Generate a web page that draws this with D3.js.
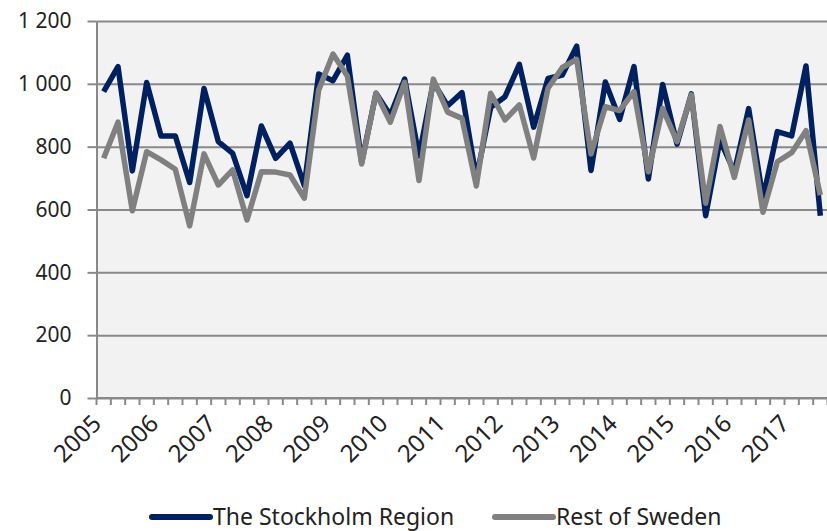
<!DOCTYPE html>
<html>
<head>
<meta charset="utf-8">
<script src="https://cdn.jsdelivr.net/npm/d3@7"></script>
<style>
  body { margin: 0; background: #fff; }
  text { font-family: 'Noto Sans', sans-serif; fill: #222; }
  .axis path, .axis line { stroke: #898989; stroke-width: 2px; }
  .grid line { stroke: #898989; stroke-width: 2px; }
  .grid path { display: none; }
</style>
</head>
<body>
<div id="chart"></div>
<script>
var margin = {top: 21, right: 0, bottom: 133, left: 96.5},
    width = 827.5 - margin.left - margin.right,
    height = 531 - margin.top - margin.bottom;

// quarterly values, 2005 Q1 - 2017 Q3
var years = ['2005','2006','2007','2008','2009','2010','2011','2012','2013','2014','2015','2016','2017'];

var stockholm = [975, 1055, 723, 1004, 834, 834, 686, 985, 816, 779, 644, 866, 763,
                 811, 676, 1031, 1010, 1091, 750, 970, 900, 1015, 770, 1005, 930,
                 972, 700, 925, 959, 1062, 862, 1017, 1028, 1120, 724, 1006, 887,
                 1055, 697, 998, 808, 968, 580, 821, 720, 921, 635, 848, 834, 1057, 580];

var restOfSweden = [763, 878, 596, 784, 758, 728, 548, 777, 678, 726, 567, 720, 719,
                    710, 636, 980, 1095, 1025, 745, 970, 878, 1005, 692, 1015, 910,
                    890, 675, 970, 885, 933, 764, 986, 1052, 1078, 777, 927, 915,
                    975, 720, 922, 816, 965, 620, 864, 702, 885, 591, 752, 781, 851, 646];

var yTicks = [0, 200, 400, 600, 800, 1000, 1200];

var series = [
  {name: 'The Stockholm Region', values: stockholm, colour: '#002060'},
  {name: 'Rest of Sweden', values: restOfSweden, colour: '#808080'}
];

var svg = d3.select('#chart').append('svg')
    .attr('width', 827)
    .attr('height', 531);

var wrapper = svg.append('g')
    .attr('transform', 'translate(' + margin.left + ',' + margin.top + ')');

var xScale = d3.scaleBand().domain(d3.range(stockholm.length)).range([0, width]),
    yScale = d3.scaleLinear().domain([0, 1200]).range([height, 0]);

var fmt = d3.formatLocale({decimal: ',', thousands: ' ', grouping: [3], currency: ['', '']}).format(',');

wrapper.append('rect')
    .attr('width', width)
    .attr('height', height)
    .style('fill', '#f2f2f2');

// gridlines
wrapper.append('g')
    .attr('class', 'grid')
    .call(d3.axisLeft(yScale).tickValues(yTicks).tickSize(-width).tickFormat(''));

// y axis
var yAxis = wrapper.append('g')
    .attr('class', 'axis')
    .call(d3.axisLeft(yScale).tickValues(yTicks).tickSize(9).tickSizeOuter(0).tickPadding(16).tickFormat(fmt));
yAxis.selectAll('text').style('font-size', '21px');

// x axis: ticks between quarters
var xAxis = wrapper.append('g')
    .attr('class', 'axis')
    .attr('transform', 'translate(0,' + height + ')');

xAxis.append('line')
    .attr('x1', 0)
    .attr('x2', width);

xAxis.selectAll('.qtick')
    .data(d3.range(stockholm.length + 1))
  .enter().append('line')
    .attr('class', 'qtick')
    .attr('x1', function(d) { return d * xScale.step(); })
    .attr('x2', function(d) { return d * xScale.step(); })
    .attr('y1', 0)
    .attr('y2', 7);

xAxis.selectAll('.year')
    .data(years)
  .enter().append('text')
    .attr('class', 'year')
    .attr('transform', function(d, i) {
      var x = xScale(i * 4) + xScale.bandwidth() / 2 - 1;
      return 'translate(' + x + ',27) rotate(-45)';
    })
    .style('text-anchor', 'end')
    .style('font-size', '24px')
    .text(function(d) { return d; });

var line = d3.line()
    .x(function(d, i) { return xScale(i) + xScale.bandwidth() / 2; })
    .y(function(d) { return yScale(d); });

// Stockholm first, grey on top as in the source
wrapper.selectAll('.series')
    .data(series)
  .enter().append('path')
    .attr('class', 'series')
    .attr('d', function(d) { return line(d.values); })
    .style('fill', 'none')
    .style('stroke', function(d) { return d.colour; })
    .style('stroke-width', 5.5)
    .style('stroke-linejoin', 'round');

// legend
var legendX = [152, 495];
var legend = svg.selectAll('.legend')
    .data(series)
  .enter().append('g')
    .attr('class', 'legend')
    .attr('transform', function(d, i) { return 'translate(' + legendX[i] + ',517)'; });

legend.append('line')
    .attr('x1', 0)
    .attr('x2', 58)
    .style('stroke', function(d) { return d.colour; })
    .style('stroke-width', 6)
    .style('stroke-linecap', 'round');

legend.append('text')
    .attr('x', 61)
    .attr('y', 8)
    .style('font-size', '23px')
    .text(function(d) { return d.name; });
</script>
</body>
</html>
